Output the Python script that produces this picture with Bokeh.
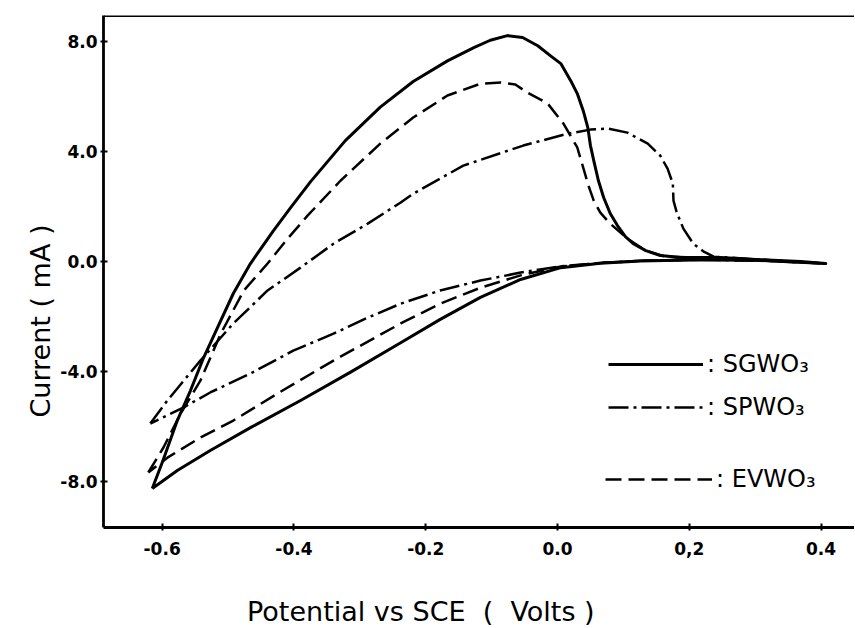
from bokeh.plotting import figure
from bokeh.models import Range1d, FixedTicker, Span, Legend, LegendItem, Title, Div
from bokeh.layouts import column
from bokeh.embed import file_html
from bokeh.resources import INLINE

# ---- data (potential in V, current in mA) ----
sg_v = [-0.615, -0.599, -0.577, -0.557, -0.537, -0.516, -0.492, -0.466, -0.431, -0.405,
        -0.375, -0.322, -0.269, -0.219, -0.167, -0.127, -0.102, -0.076, -0.053, -0.030,
        -0.011, 0.005, 0.020, 0.030, 0.039, 0.046, 0.050, 0.055, 0.062, 0.070, 0.080,
        0.091, 0.103, 0.115, 0.134, 0.156, 0.187, 0.247, 0.308, 0.369, 0.407,
        0.308, 0.217, 0.126, 0.065, 0.005, -0.056, -0.117, -0.178, -0.238, -0.314,
        -0.390, -0.466, -0.527, -0.577, -0.615]
sg_i = [-8.25, -7.25, -5.78, -4.69, -3.49, -2.40, -1.16, -0.07, 1.13, 1.96,
        2.90, 4.40, 5.62, 6.55, 7.30, 7.78, 8.05, 8.22, 8.15, 7.85,
        7.49, 7.20, 6.58, 6.11, 5.49, 4.87, 4.22, 3.67, 2.95, 2.33, 1.75,
        1.31, 0.91, 0.65, 0.40, 0.22, 0.15, 0.15, 0.07, 0.0, -0.07,
        0.04, 0.07, 0.02, -0.06, -0.22, -0.65, -1.30, -2.10, -2.95, -4.02,
        -5.05, -6.04, -6.87, -7.60, -8.25]

ev_v = [-0.621, -0.598, -0.572, -0.542, -0.511, -0.476, -0.440, -0.410, -0.379, -0.329,
        -0.269, -0.219, -0.167, -0.117, -0.086, -0.064, -0.046, -0.015, 0.009, 0.030,
        0.039, 0.047, 0.055, 0.065, 0.080, 0.106, 0.134, 0.164, 0.217, 0.308, 0.407,
        0.308, 0.217, 0.126, 0.065, 0.005, -0.056, -0.117, -0.178, -0.238, -0.340,
        -0.425, -0.492, -0.542, -0.592, -0.621]
ev_i = [-7.67, -6.76, -5.53, -4.33, -2.62, -1.05, -0.07, 0.82, 1.68, 2.95,
        4.29, 5.24, 6.04, 6.47, 6.51, 6.44, 6.15, 5.75, 5.02, 4.15,
        3.42, 2.76, 2.22, 1.78, 1.38, 0.84, 0.40, 0.18, 0.15, 0.07, -0.07,
        0.04, 0.07, 0.03, -0.05, -0.18, -0.50, -0.95, -1.53, -2.25, -3.60,
        -4.80, -5.78, -6.40, -7.13, -7.67]

sp_v = [-0.618, -0.592, -0.542, -0.492, -0.440, -0.390, -0.340, -0.288, -0.238, -0.219,
        -0.143, -0.052, 0.015, 0.050, 0.076, 0.106, 0.137, 0.156, 0.167, 0.175,
        0.176, 0.181, 0.191, 0.206, 0.222, 0.237, 0.308, 0.407,
        0.308, 0.217, 0.126, 0.065, 0.005, -0.056, -0.117, -0.178, -0.238, -0.288,
        -0.340, -0.401, -0.466, -0.527, -0.568, -0.618]
sp_i = [-5.89, -5.05, -3.60, -2.25, -1.05, -0.22, 0.65, 1.38, 2.15, 2.47,
        3.49, 4.22, 4.65, 4.80, 4.84, 4.69, 4.29, 3.85, 3.38, 2.84,
        2.22, 1.78, 1.20, 0.65, 0.36, 0.18, 0.07, -0.07,
        0.04, 0.07, 0.03, -0.05, -0.17, -0.40, -0.69, -1.05, -1.53, -2.04,
        -2.62, -3.24, -4.07, -4.76, -5.31, -5.89]

x_ticks = [-0.6, -0.4, -0.2, 0.0, 0.2, 0.4]
x_tick_labels = ["-0.6", "-0.4", "-0.2", "0.0", "0,2", "0.4"]
y_ticks = [-8, -4, 0, 4, 8]
y_tick_labels = ["-8.0", "-4.0", "0.0", "4.0", "8.0"]

x_title = "Potential vs SCE  (  Volts )"
y_title = "Current ( mA )"
series_labels = [": SGWO\u2083", ": SPWO\u2083", ": EVWO\u2083"]

# layout in page pixels: frame left 103, right 854, top 15, bottom 527
W, H_PLOT, H_TITLE = 854, 590, 38
FL, FR, FT, FB = 103, 854, 15, 527
X0, X1 = -0.689, 0.4507
Y0, Y1 = -9.67, 8.95

p = figure(width=W, height=H_PLOT, output_backend="svg", toolbar_location=None,
           x_range=Range1d(X0, X1), y_range=Range1d(Y0, Y1),
           min_border_left=FL, min_border_right=W - FR, min_border_top=FT,
           min_border_bottom=H_PLOT - FB, margin=0)
p.grid.visible = False
p.outline_line_color = None
p.background_fill_color = "white"
p.border_fill_color = "white"

FONT = "DejaVu Sans"

for ax in (p.xaxis[0], p.yaxis[0]):
    ax.axis_line_width = 2.8
    ax.axis_line_color = "black"
    ax.major_tick_line_width = 2
    ax.major_tick_in = 4
    ax.major_tick_out = 3
    ax.minor_tick_line_color = None
    ax.major_label_text_font = FONT
    ax.major_label_text_font_style = "bold"
    ax.major_label_text_font_size = "17px"
    ax.major_label_text_color = "black"

p.xaxis.ticker = FixedTicker(ticks=x_ticks)
p.xaxis.major_label_overrides = {t: s for t, s in zip(x_ticks, x_tick_labels)}
p.xaxis.major_label_standoff = 11
p.yaxis.ticker = FixedTicker(ticks=y_ticks)
p.yaxis.major_label_overrides = {t: s for t, s in zip(y_ticks, y_tick_labels)}
p.yaxis.major_label_standoff = 3

p.add_layout(Span(location=Y1, dimension="width", line_color="black", line_width=2.8))

r_sg = p.line(sg_v, sg_i, line_color="black", line_width=3, line_join="round")
r_sp = p.line(sp_v, sp_i, line_color="black", line_width=2.5, line_dash="20 5 3 5",
              line_join="round")
r_ev = p.line(ev_v, ev_i, line_color="black", line_width=2.5, line_dash="16 7",
              line_join="round")

p.add_layout(Title(text=y_title, align="left", offset=FB - 417, standoff=4,
                   text_font=FONT, text_font_size="27px", text_font_style="normal",
                   text_color="black"), "left")

leg_specs = [(r_sg, series_labels[0], 608, 365, 95),
             (r_sp, series_labels[1], 608, 408, 95),
             (r_ev, series_labels[2], 605, 480, 107)]
for r, lab, lx, ly, gw in leg_specs:
    lg = Legend(items=[LegendItem(label=lab, renderers=[r])],
                location=(lx - FL, FB - (ly + 13)),
                glyph_width=gw, glyph_height=26, label_height=26,
                label_standoff=4, padding=0, margin=0, spacing=0,
                border_line_color=None, background_fill_alpha=0,
                label_text_font=FONT, label_text_font_size="24px",
                label_text_color="black")
    p.add_layout(lg, "center")

# x-axis title below the plot, offset to the left as in the reference
title_div = Div(
    text=('<div style="margin-left:247px; margin-top:7px; white-space:pre; '
          'font-family:\'DejaVu Sans\'; font-size:27px; line-height:30px; color:black;">'
          + x_title + '</div>'),
    width=W, height=H_TITLE, margin=0)

layout = column(p, title_div, spacing=0, margin=0)

open("out.html", "w").write(file_html(layout, INLINE))
